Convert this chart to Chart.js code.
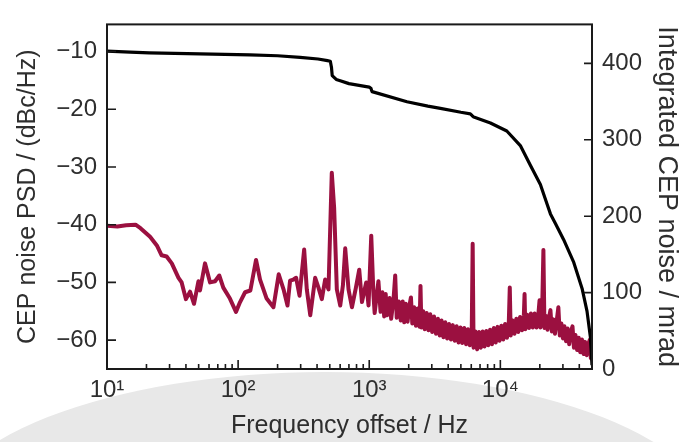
<!DOCTYPE html>
<html>
<head>
<meta charset="utf-8">
<script src="https://cdn.jsdelivr.net/npm/chart.js@4.4.0/dist/chart.umd.min.js"></script>
<style>
html, body { margin: 0; padding: 0; background: #fff; }
canvas { display: block; }
</style>
</head>
<body>
<canvas id="chart" width="693" height="442"></canvas>
<script>
// PSD of the CEP noise (left axis, dBc/Hz)
const psdFreq = [
    10, 12, 14, 16.5, 18, 21.3, 24, 26.1, 28.5, 31.2, 35.1, 37.1, 40, 43, 46.1, 49.8, 51.2, 55.9, 61.1, 66.7,
    71.8, 77.1, 86.6, 96.3, 103.5, 113, 124, 137, 147, 165, 186, 204, 222, 238, 249, 264, 277, 294, 319, 334,
    355, 387, 410, 435, 461, 489, 518, 540, 566, 601, 630, 656, 695, 738, 790, 839, 880, 948, 988, 1036,
    1078, 1100, 1175, 1220, 1260, 1300, 1335, 1370, 1430, 1470, 1530, 1578, 1620, 1680, 1740, 1800, 1850, 1900, 1960, 2030,
    2080, 2130, 2200, 2270, 2340, 2420, 2460, 2500, 2580, 2650, 2740, 2830, 2920, 3020, 3120, 3230, 3340, 3450, 3560, 3680,
    3800, 3930, 4060, 4200, 4340, 4490, 4640, 4800, 4960, 5120, 5300, 5480, 5660, 5850, 6050, 6150, 6250, 6450, 6650, 6870,
    7100, 7330, 7570, 7820, 8080, 8350, 8630, 8920, 9220, 9530, 9850, 10180, 10520, 10870, 11230, 11600, 11800, 12000, 12400, 12810,
    13240, 13680, 14140, 14610, 15100, 15300, 15500, 16000, 16550, 17100, 17670, 18260, 18870, 19500, 19900, 20200, 20800, 21300, 21700, 22300,
    22900, 23500, 24100, 24700, 25400, 26100, 26900, 27700, 28400, 29200, 30000, 30800, 31700, 32600, 33500, 34500, 35500, 36400, 37400, 38500,
    39600, 40700, 41900, 43100, 44300, 45500, 46800, 48000, 49000, 50000
];
const psdLevel = [
    -40.2, -40.3, -40.1, -40.0, -40.6, -42.1, -43.6, -45.3, -45.5, -46.7, -49.2, -50.0, -52.9, -51.6, -53.7, -49.8, -51.4, -46.7, -50.0, -49.8,
    -48.8, -50.9, -52.8, -55.1, -53.4, -51.7, -51.4, -46.1, -49.5, -52.8, -54.3, -48.6, -51.2, -54.0, -49.7, -49.5, -49.2, -52.3, -44.3, -51.2,
    -55.7, -49.2, -50.9, -52.9, -49.5, -51.2, -31.0, -37.1, -51.2, -54.0, -50.5, -44.1, -51.2, -54.3, -51.0, -47.8, -53.4, -50.0, -54.0, -41.9,
    -52.3, -55.3, -49.8, -55.1, -51.7, -55.9, -52.0, -55.7, -52.7, -56.3, -53.1, -48.8, -56.1, -53.3, -56.6, -53.3, -56.9, -53.7, -56.8, -53.9,
    -52.6, -57.1, -54.3, -57.5, -54.5, -57.7, -50.6, -57.8, -55.0, -58.1, -55.3, -58.3, -55.5, -58.6, -55.9, -58.9, -56.3, -59.2, -56.6, -59.5,
    -56.9, -59.7, -57.2, -59.9, -57.4, -60.1, -57.6, -60.4, -57.8, -60.5, -57.9, -60.7, -58.1, -60.9, -58.4, -43.3, -61.3, -58.5, -61.6, -58.6,
    -61.3, -58.5, -61.1, -58.4, -60.9, -58.2, -60.7, -57.9, -60.4, -57.7, -60.1, -57.5, -59.9, -57.2, -59.6, -56.9, -50.9, -59.2, -56.6, -58.9,
    -56.3, -58.6, -56.0, -58.3, -55.8, -52.0, -58.1, -55.6, -57.9, -55.4, -57.8, -55.4, -57.8, -55.5, -53.1, -57.8, -55.6, -44.4, -57.9, -55.8,
    -58.2, -56.1, -54.8, -58.5, -56.4, -58.9, -56.7, -54.3, -59.2, -57.1, -59.7, -57.6, -60.2, -58.0, -60.7, -58.5, -57.6, -61.3, -59.1, -61.7,
    -59.6, -62.1, -59.9, -62.4, -60.3, -62.6, -60.7, -60.0, -63.1, -63.3
];

// integrated CEP noise (right axis, mrad)
const cepFreq = [10, 15, 21, 51, 123, 200, 297, 407, 480, 505, 515, 522, 560, 601, 700, 1000, 1030, 1050, 1100, 1940,
    2800, 3490, 5000, 5900, 6100, 6270, 8400, 11200, 14200, 16900, 20200, 22700, 24100, 26300, 30400, 36300, 42000, 45800, 48600, 50000];
const cepNoise = [416, 414.8, 413.8, 412.3, 411.2, 410, 407.9, 405.7, 403.5, 402.8, 395, 384, 379, 377.3, 373.5, 369, 367.5, 363, 362, 349.7,
    344, 341.1, 336, 334, 331.5, 329.7, 322, 311.5, 292.4, 266.9, 241.4, 215.9, 203, 190.4, 169.2, 139.5, 105.5, 75.8, 41.8, 5];

const xMajorTicks = [10, 100, 1000, 10000];
const xMinorTicks = [20, 30, 40, 50, 60, 70, 80, 90, 200, 300, 400, 500, 600, 700, 800, 900,
    2000, 3000, 4000, 5000, 6000, 7000, 8000, 9000, 20000, 30000, 40000];
const xTickLabels = ['10\u00B9', '10\u00B2', '10\u00B3', '10\u2074'];
const leftTicks = [-60, -50, -40, -30, -20, -10];
const rightTicks = [0, 100, 200, 300, 400];

const textColor = '#2e2e2e';
const family = '"Liberation Sans", Arial, sans-serif';
const tickFont = { family: family, size: 24 };

// grey slide shape behind the lower part of the figure
const slideShape = {
    id: 'slideShape',
    beforeDraw(chart) {
        const ctx = chart.ctx;
        ctx.save();
        ctx.fillStyle = '#e8e8e8';
        ctx.beginPath();
        ctx.ellipse(325, 526, 392, 154, 0, 0, Math.PI * 2);
        ctx.fill();
        ctx.restore();
    }
};

// inward tick marks and the closed frame
const frameTicks = {
    id: 'frameTicks',
    afterDatasetsDraw(chart) {
        const { ctx, chartArea: a, scales } = chart;
        ctx.save();
        ctx.strokeStyle = '#1a1a1a';
        ctx.lineWidth = 1.6;
        ctx.beginPath();
        xMajorTicks.concat(xMinorTicks).forEach(v => {
            const px = scales.x.getPixelForValue(v);
            const len = xMajorTicks.includes(v) ? 9 : 5;
            ctx.moveTo(px, a.bottom);
            ctx.lineTo(px, a.bottom - len);
        });
        leftTicks.forEach(v => {
            const py = scales.y.getPixelForValue(v);
            ctx.moveTo(a.left, py);
            ctx.lineTo(a.left + 9, py);
        });
        rightTicks.forEach(v => {
            const py = scales.y2.getPixelForValue(v);
            ctx.moveTo(a.right, py);
            ctx.lineTo(a.right - 8, py);
        });
        ctx.stroke();
        ctx.lineWidth = 2;
        ctx.strokeRect(a.left, a.top, a.right - a.left, a.bottom - a.top);
        ctx.restore();
    }
};

const psdPoints = psdFreq.map((f, i) => ({ x: f, y: psdLevel[i] }));
const cepPoints = cepFreq.map((f, i) => ({ x: f, y: cepNoise[i] }));

new Chart(document.getElementById('chart'), {
    type: 'line',
    data: {
        datasets: [
            {
                label: 'Integrated CEP noise',
                data: cepPoints,
                yAxisID: 'y2',
                borderColor: '#000000',
                borderWidth: 3.2,
                pointRadius: 0,
                tension: 0,
                borderJoinStyle: 'round'
            },
            {
                label: 'CEP noise PSD',
                data: psdPoints,
                yAxisID: 'y',
                borderColor: '#9b1040',
                borderWidth: 4,
                pointRadius: 0,
                tension: 0,
                borderJoinStyle: 'round'
            }
        ]
    },
    options: {
        responsive: false,
        animation: false,
        devicePixelRatio: 1,
        layout: { padding: { top: 15, left: 0, right: 0, bottom: 0 } },
        plugins: { legend: { display: false }, tooltip: { enabled: false } },
        scales: {
            x: {
                type: 'logarithmic',
                position: 'bottom',
                min: 10,
                max: 50000,
                grid: { display: false, drawTicks: false },
                border: { display: false },
                afterBuildTicks: s => { s.ticks = xMajorTicks.concat(xMinorTicks).sort((p, q) => p - q).map(v => ({ value: v })); },
                afterFit: s => { s.height = 73; },
                ticks: {
                    autoSkip: false,
                    maxRotation: 0,
                    padding: 7,
                    color: textColor,
                    font: tickFont,
                    callback: v => {
                        const i = xMajorTicks.indexOf(v);
                        return i >= 0 ? xTickLabels[i] : '';
                    }
                },
                title: { display: true, text: 'Frequency offset / Hz', color: textColor,
                    font: { family: family, size: 25, lineHeight: 1 }, padding: { top: 0, bottom: 3 } }
            },
            y: {
                position: 'left',
                min: -65,
                max: -5.3,
                grid: { display: false, drawTicks: false },
                border: { display: false },
                afterBuildTicks: s => { s.ticks = leftTicks.map(v => ({ value: v })); },
                afterFit: s => { s.width = 107; },
                ticks: {
                    padding: 10,
                    color: textColor,
                    font: tickFont,
                    callback: v => (v < 0 ? '\u2212' + Math.abs(v) : String(v))
                },
                title: { display: true, text: 'CEP noise PSD / (dBc/Hz)', color: textColor,
                    font: { family: family, size: 25, lineHeight: 1 }, padding: { top: 16, bottom: 0 } }
            },
            y2: {
                position: 'right',
                min: 0,
                max: 451,
                grid: { display: false, drawTicks: false },
                border: { display: false },
                afterBuildTicks: s => { s.ticks = rightTicks.map(v => ({ value: v })); },
                afterFit: s => { s.width = 101; },
                ticks: { padding: 10, color: textColor, font: tickFont },
                title: { display: true, text: 'Integrated CEP noise / mrad', color: textColor,
                    font: { family: family, size: 27, lineHeight: 1 }, padding: { top: 13, bottom: 0 } }
            }
        }
    },
    plugins: [slideShape, frameTicks]
});
</script>
</body>
</html>
